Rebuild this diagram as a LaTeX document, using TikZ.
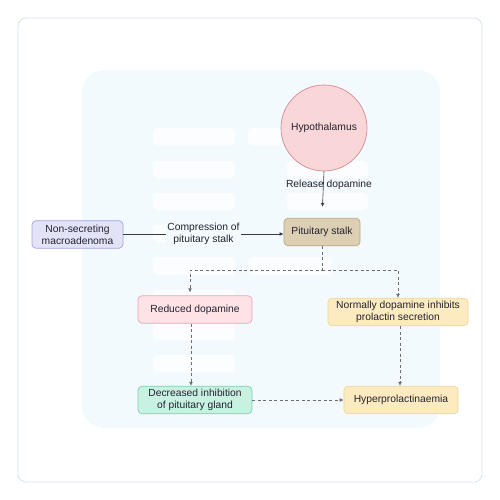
\documentclass[tikz,border=0pt]{standalone}
\usepackage{fontspec}
\setmainfont{Liberation Sans}
\usetikzlibrary{arrows.meta,calc}
\definecolor{framec}{HTML}{D8E5F1}
\definecolor{panelc}{HTML}{F3FAFE}
\definecolor{inkc}{HTML}{23232F}
\definecolor{linec}{HTML}{3A3A42}
\definecolor{dashc}{HTML}{6E6E78}
\definecolor{hypofill}{HTML}{F9D6D8}
\definecolor{hypodraw}{HTML}{D98A90}
\definecolor{lavfill}{HTML}{E3E3F8}
\definecolor{lavdraw}{HTML}{A3A3E6}
\definecolor{tanfill}{HTML}{DCCFB4}
\definecolor{tandraw}{HTML}{B9A57F}
\definecolor{rosefill}{HTML}{FDE2E6}
\definecolor{rosedraw}{HTML}{EFA3B3}
\definecolor{sandfill}{HTML}{FCEBC0}
\definecolor{sanddraw}{HTML}{F2D590}
\definecolor{mintfill}{HTML}{C8F1E2}
\definecolor{mintdraw}{HTML}{74D3AE}
\begin{document}
\begin{tikzpicture}[x=1pt, y=-1pt, font=\fontsize{10.3}{12.2}\selectfont, text=inkc, >={Latex[length=4pt,width=3.6pt]},
          box/.style={draw, rounded corners=4pt, line width=0.7pt, align=center, minimum height=27.5pt, inner sep=2pt},
          lav/.style={box, fill=lavfill, draw=lavdraw},
          tan/.style={box, fill=tanfill, draw=tandraw},
          rose/.style={box, fill=rosefill, draw=rosedraw},
          sand/.style={box, fill=sandfill, draw=sanddraw},
          mint/.style={box, fill=mintfill, draw=mintdraw},
          flow/.style={->, draw=linec, line width=0.6pt},
          weak/.style={->, draw=dashc, line width=0.5pt, dashed, dash pattern=on 3pt off 2.5pt}]
        \useasboundingbox (0,0) rectangle (500,500);
        % frame and light panel behind the chart
        \draw[framec, line width=0.9pt, fill=white, rounded corners=8pt] (18,18) rectangle (482,482);
        \fill[panelc, rounded corners=22pt] (82,70) rectangle (440,428);
        % faint placeholder bars on the panel
        \foreach \xa/\ya/\xb/\yb in {153/128/235/145, 248/128/282/145, 153/161/235/178, 287/161/368/178,
            153/193/235/210, 287/193/368/210, 153/225/235/242, 153/257/235/275, 248/257/332/275,
            153/290/235/307, 153/323/235/340, 153/355/235/372}
          \fill[white, opacity=0.75, rounded corners=4pt] (\xa,\ya) rectangle (\xb,\yb);
        % nodes
        \node[circle, draw=hypodraw, fill=hypofill, line width=0.7pt, minimum size=86pt] (hypo) at (324,128) {Hypothalamus};
        \node[tan, minimum width=76pt] (stalk) at (322,232) {Pituitary stalk};
        \node[lav, minimum width=91pt] (macro) at (77.5,234.5) {Non-secreting\\macroadenoma};
        \node[rose, minimum width=114pt] (reduced) at (195,309.5) {Reduced dopamine};
        \node[sand, minimum width=140pt] (normally) at (398,312) {Normally dopamine inhibits\\prolactin secretion};
        \node[mint, minimum width=114pt] (decreased) at (195,400) {Decreased inhibition\\of pituitary gland};
        \node[sand, minimum width=114pt] (hyper) at (401,400) {Hyperprolactinaemia};
        % connectors
        \draw[flow, shorten >=11pt] (hypo.south) -- (stalk.north);
        \node (lblrel) at (329,185) {Release dopamine};
        \draw[flow] (macro.east |- 0,234) -- (stalk.west |- 0,234)
          node[midway, fill=panelc, align=center, inner xsep=1.5pt, inner ysep=1pt] (lblcomp) {Compression of\\pituitary stalk};
        \coordinate (split) at ($(stalk.south)+(0,24)$);
        \draw[weak, shorten >=3pt] (stalk.south) -- (split) -| ([xshift=-5pt]reduced.north);
        \draw[weak] (split) -| (normally.north);
        \draw[weak] ([xshift=-4pt]reduced.south) -- ([xshift=-4pt]decreased.north);
        \draw[weak] ([xshift=2pt]normally.south) -- ([xshift=2pt]normally.south |- hyper.north);
        \draw[weak] (decreased.east) -- (hyper.west);
      \end{tikzpicture}
\end{document}
